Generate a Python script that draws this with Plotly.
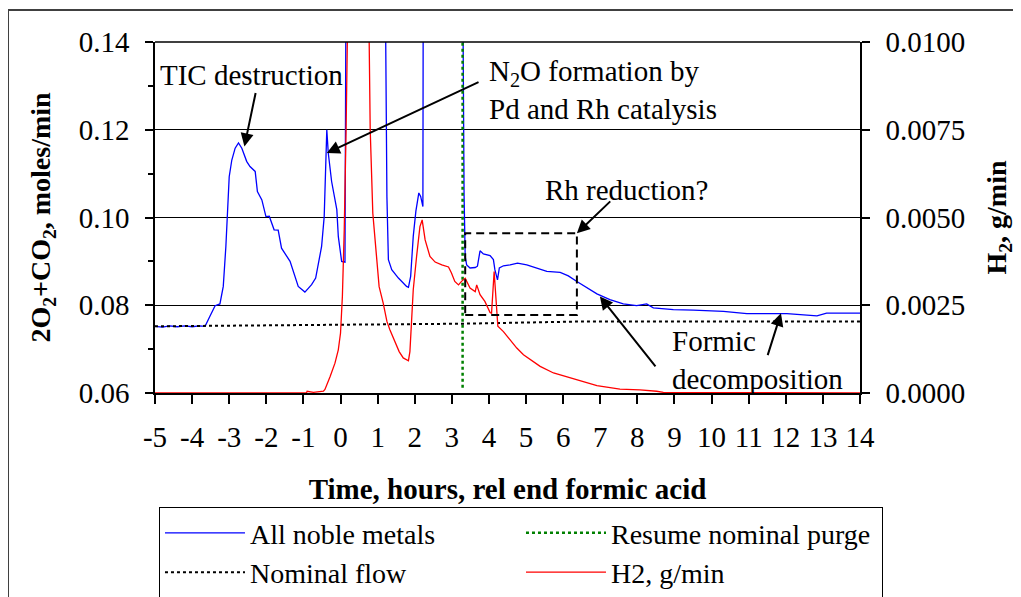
import plotly.graph_objects as go

# ---------------- data ----------------
hours_noble = [-5.0, -4.8, -4.6, -4.4, -4.2, -4.0, -3.8, -3.65, -3.52, -3.38, -3.25, -3.16, -3.09, -3.00,
               -2.93, -2.84, -2.75, -2.66, -2.53, -2.44, -2.30, -2.24, -2.12, -2.01, -1.92, -1.79, -1.68,
               -1.59, -1.36, -1.14, -0.96, -0.78, -0.67, -0.60, -0.51, -0.44, -0.37, -0.33, -0.24, -0.10,
               -0.06, 0.03, 0.12, 0.15, 1.20, 1.25, 1.29, 1.38, 1.56, 1.78, 1.83, 1.89, 1.96, 2.03, 2.11,
               2.16, 2.22, 2.23, 3.29, 3.33, 3.36, 3.40, 3.49, 3.63, 3.69, 3.76, 3.85, 4.03, 4.12, 4.16,
               4.23, 4.28, 4.39, 4.57, 4.77, 5.02, 5.29, 5.56, 5.92, 6.14, 6.37, 6.64, 6.91, 7.26, 7.62,
               7.98, 8.25, 8.43, 8.97, 9.51, 10.32, 10.95, 11.67, 12.03, 12.84, 13.10, 14.0]
noble_metals = [0.0752, 0.0750, 0.0753, 0.0751, 0.0753, 0.0751, 0.0753, 0.0752, 0.0775, 0.0799, 0.0803,
                0.0843, 0.0934, 0.1093, 0.1131, 0.1158, 0.1170, 0.1158, 0.1128, 0.1116, 0.1105, 0.1059,
                0.1040, 0.1002, 0.1003, 0.0972, 0.0971, 0.0930, 0.0900, 0.0843, 0.0830, 0.0847, 0.0862,
                0.0896, 0.0934, 0.1002, 0.1200, 0.1147, 0.1082, 0.1018, 0.0957, 0.0900, 0.0898, 0.16,
                0.16, 0.1048, 0.0904, 0.0881, 0.0862, 0.0843, 0.0841, 0.0866, 0.0957, 0.1014, 0.1056,
                0.1048, 0.1025, 0.16, 0.16, 0.1048, 0.0911, 0.0892, 0.0885, 0.0886, 0.0889, 0.0924,
                0.0917, 0.0913, 0.0904, 0.0881, 0.0858, 0.0885, 0.0890, 0.0892, 0.0896, 0.0892, 0.0885,
                0.0877, 0.0875, 0.0867, 0.0854, 0.0839, 0.0826, 0.0813, 0.0803, 0.0799, 0.0803, 0.0794,
                0.0790, 0.0789, 0.0786, 0.0781, 0.0781, 0.0781, 0.0776, 0.0782, 0.0782]

hours_h2 = [-5.0, -0.92, -0.90, -0.73, -0.46, -0.42, -0.28, -0.15, -0.06, 0.0, 0.05, 0.10, 0.15, 0.21,
            0.75, 0.80, 0.87, 0.98, 1.04, 1.15, 1.25, 1.33, 1.47, 1.58, 1.69, 1.83, 1.87, 1.96, 2.05,
            2.14, 2.20, 2.28, 2.41, 2.55, 2.73, 2.91, 2.99, 3.08, 3.18, 3.26, 3.36, 3.49, 3.63, 3.67,
            3.76, 3.89, 4.03, 4.07, 4.14, 4.21, 4.24, 4.39, 4.57, 4.75, 4.93, 5.11, 5.38, 5.74, 6.10,
            6.46, 6.91, 7.53, 8.07, 8.52, 8.70, 14.0]
h2_gmin = [0.0, 0.0, 0.00005, 0.00002, 0.00005, 0.0001, 0.00047, 0.00085, 0.00123, 0.00171, 0.00275,
           0.00465, 0.0075, 0.012, 0.012, 0.0075, 0.00512, 0.0037, 0.00303, 0.00256, 0.00204, 0.0018,
           0.00142, 0.00118, 0.0010, 0.00092, 0.00118, 0.00294, 0.00389, 0.00474, 0.00493, 0.00436,
           0.00389, 0.00373, 0.00365, 0.00359, 0.00342, 0.00318, 0.00308, 0.00318, 0.00327, 0.00299,
           0.00289, 0.00308, 0.0028, 0.00261, 0.00229, 0.00227, 0.00346, 0.00228, 0.0019, 0.00175,
           0.00152, 0.00128, 0.00109, 0.00095, 0.00076, 0.00057, 0.00046, 0.00033, 0.00021, 0.00011,
           0.00009, 0.00005, 0.00002, 0.0]

hours_nominal = [-5.0, -2.6, 3.3, 6.5, 14.0]
nominal_flow = [0.0752, 0.0754, 0.0758, 0.0763, 0.0763]

hours_purge = [3.29, 3.29]
purge_level = [0.0612, 0.14]

x_tick_values = list(range(-5, 15))
x_tick_labels = [str(v) for v in x_tick_values]
y_tick_values = [0.06, 0.08, 0.10, 0.12, 0.14]
y_tick_labels = ["0.06", "0.08", "0.10", "0.12", "0.14"]
y_minor_values = [0.07, 0.09, 0.11, 0.13]
y2_tick_values = [0.0, 0.0025, 0.005, 0.0075, 0.01]
y2_tick_labels = ["0.0000", "0.0025", "0.0050", "0.0075", "0.0100"]

# "Rh reduction?" dashed box (hours, moles/min)
rh_box_hours = [3.36, 6.37]
rh_box_level = [0.0778, 0.0964]

FONT = "Liberation Serif"
FS = 29      # tick labels and notes
FT = 28      # legend / y titles

fig = go.Figure()
fig.add_trace(go.Scatter(x=hours_noble, y=noble_metals, mode="lines", name="All noble metals",
                         line=dict(color="#0000FF", width=1.3), legendrank=1))
fig.add_trace(go.Scatter(x=hours_purge, y=purge_level, mode="lines", name="Resume nominal purge",
                         line=dict(color="#008000", width=2.5, dash="dot"), legendrank=2))
fig.add_trace(go.Scatter(x=hours_nominal, y=nominal_flow, mode="lines", name="Nominal flow",
                         line=dict(color="black", width=2, dash="dot"), legendrank=3))
fig.add_trace(go.Scatter(x=hours_h2, y=h2_gmin, yaxis="y2", mode="lines", name="H2, g/min",
                         line=dict(color="#FF0000", width=1.3), legendrank=4))

axis_common = dict(ticks="outside", tickcolor="black", tickwidth=1.5, showline=True,
                   linecolor="black", linewidth=1.5, zeroline=False,
                   tickfont=dict(family=FONT, size=FS, color="black"))

# the page body has an 8px margin, so the figure is 16px smaller than the window
fig.update_layout(
    width=1013, height=589,
    margin=dict(l=147, r=161, t=34, b=204, autoexpand=False),
    paper_bgcolor="white", plot_bgcolor="white",
    font=dict(family=FONT, size=FS, color="black"),
    showlegend=True,
    legend=dict(orientation="h", x=1.0326, xanchor="right", y=-0.325, yanchor="top",
                entrywidth=266, entrywidthmode="pixels", itemwidth=80,
                bordercolor="black", borderwidth=1, bgcolor="white",
                font=dict(family=FONT, size=FT, color="black"), tracegroupgap=0),
    xaxis=dict(range=[-5, 14], tickmode="array", tickvals=x_tick_values, ticktext=x_tick_labels,
               ticklen=9, showgrid=False, mirror=False, layer="below traces",
               ticklabelstandoff=8,
               title=dict(text="<b>Time, hours, rel end formic acid</b>", standoff=27,
                          font=dict(family=FONT, size=29, color="black")),
               **axis_common),
    yaxis=dict(range=[0.06, 0.14], tickmode="array", tickvals=y_tick_values, ticktext=y_tick_labels,
               ticklen=8, showgrid=True, gridcolor="black", gridwidth=1,
               minor=dict(tickmode="array", tickvals=y_minor_values, ticks="outside", ticklen=5,
                          tickcolor="black", tickwidth=1.5, showgrid=False),
               ticklabelstandoff=10, layer="below traces",
               title=dict(text="<b>2O<sub>2</sub>+CO<sub>2</sub>, moles/min</b>", standoff=20,
                          font=dict(family=FONT, size=FT, color="black")),
               **axis_common),
    yaxis2=dict(range=[0, 0.01], overlaying="y", side="right", tickmode="array",
                tickvals=y2_tick_values, ticktext=y2_tick_labels, ticklen=8, showgrid=False,
                ticklabelstandoff=10, layer="below traces",
                title=dict(text="<b>H<sub>2</sub>, g/min</b>", standoff=22,
                           font=dict(family=FONT, size=FT, color="black")),
                **axis_common),
)

# top border of the plot area
fig.add_shape(type="line", xref="paper", yref="paper", x0=0, x1=1, y0=1, y1=1,
              line=dict(color="black", width=1.5))
# dashed box
fig.add_shape(type="rect", xref="x", yref="y", x0=rh_box_hours[0], x1=rh_box_hours[1],
              y0=rh_box_level[0], y1=rh_box_level[1], line=dict(color="black", width=2, dash="8px,5px"),
              fillcolor="rgba(0,0,0,0)")
# outer chart border
fig.add_shape(type="rect", xref="paper", yref="paper", x0=-0.2085, x1=1.25, y0=-0.65, y1=1.0912,
              line=dict(color="#404040", width=2), fillcolor="rgba(0,0,0,0)", layer="above")

tfont = dict(family=FONT, size=FS, color="black")
texts = [
    dict(x=-2.39, y=0.1325, text="TIC destruction", xanchor="center", align="center"),
    dict(x=3.95, y=0.1291, text="N<sub>2</sub>O formation by<br>Pd and Rh catalysis", xanchor="left", align="left"),
    dict(x=7.72, y=0.1063, text="Rh reduction?", xanchor="center", align="center"),
    dict(x=8.88, y=0.0676, text="Formic<br>decomposition", xanchor="left", align="left"),
]
for t in texts:
    fig.add_annotation(xref="x", yref="y", showarrow=False, yanchor="middle", font=tfont, **t)

arrows = [
    (-2.59, 0.1162, -2.28, 0.1287),
    (-0.37, 0.1147, 3.76, 0.1310),
    (6.37, 0.0964, 7.31, 0.1040),
    (6.99, 0.0820, 8.52, 0.0657),
    (11.87, 0.0782, 11.50, 0.0683),
]
for hx, hy, tx, ty in arrows:
    fig.add_annotation(xref="x", yref="y", axref="x", ayref="y", x=hx, y=hy, ax=tx, ay=ty,
                       text="", showarrow=True, arrowhead=2, arrowsize=1.3, arrowwidth=2,
                       arrowcolor="black", standoff=0)

fig.write_html("out.html")
